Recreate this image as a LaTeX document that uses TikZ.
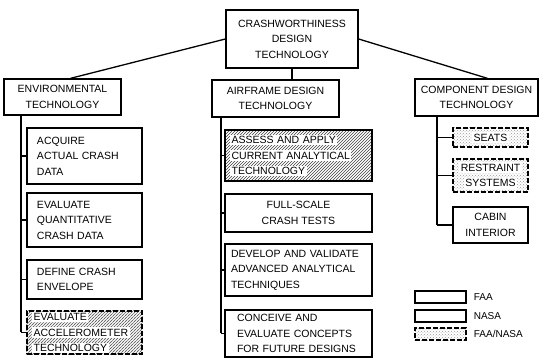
\documentclass[tikz,border=0pt]{standalone}
\usepackage{fontspec}
\setmainfont{Liberation Sans}
\usetikzlibrary{positioning,patterns,backgrounds}
\setlength{\fboxsep}{1.6pt}
\newcommand{\wbg}[1]{\colorbox{white}{#1}}

\begin{document}
\begin{tikzpicture}[x=1pt, y=-1pt,
    box/.style={draw, line width=1.3pt, inner sep=0pt, align=center,
        font=\fontsize{10.5}{15.5}\selectfont},
    leftbox/.style={box, align=left, inner xsep=10pt},
    jointbox/.style={dash pattern=on 5pt off 2pt},
    link/.style={line width=1.3pt},
    legendtxt/.style={font=\fontsize{10}{12}\selectfont, inner sep=0pt}]

    \useasboundingbox (0,0) rectangle (539,363);

    % Top level
    \node[box, minimum width=132, minimum height=58] (top) at (292,39)
        {CRASHWORTHINESS\\DESIGN\\TECHNOLOGY};

    % Second level
    \node[box, minimum width=117, minimum height=36] (env) at (62.5,97)
        {ENVIRONMENTAL\\TECHNOLOGY};
    \node[box, minimum width=127, minimum height=37] (air) at (275.5,98.5)
        {AIRFRAME DESIGN\\TECHNOLOGY};
    \node[box, minimum width=123, minimum height=37] (comp) at (476.5,97.5)
        {COMPONENT DESIGN\\TECHNOLOGY};

    \draw[link] (top.west) -- ([xshift=8pt]env.north);
    \draw[link] (top.south) -- (top.south |- air.north);
    \draw[link] (top.east) -- ([xshift=11pt]comp.north);

    % Environmental technology tasks
    \node[leftbox, text width=95, minimum height=56] (acq) at (84.5,156)
        {ACQUIRE\\ACTUAL CRASH\\DATA};
    \node[leftbox, text width=95, minimum height=54] (evq) at (84.5,220)
        {EVALUATE\\QUANTITATIVE\\CRASH DATA};
    \node[leftbox, text width=95, minimum height=39] (def) at (84.5,279.5)
        {DEFINE CRASH\\ENVELOPE};
    \node[leftbox, jointbox, inner xsep=5pt, text width=105, minimum height=43] (acc) at (84.5,332.5)
        {\wbg{EVALUATE}\\\wbg{ACCELEROMETER}\\\wbg{TECHNOLOGY}};

    % Airframe design tasks
    \node[leftbox, inner xsep=5pt, text width=137, minimum height=51] (asa) at (298.5,155.5)
        {\wbg{ASSESS AND APPLY}\\\wbg{CURRENT ANALYTICAL}\\\wbg{TECHNOLOGY}};
    \node[box, minimum width=147, minimum height=38] (fst) at (298.5,213)
        {FULL-SCALE\\CRASH TESTS};
    \node[leftbox, inner xsep=6pt, text width=135, minimum height=52] (dev) at (298.5,270)
        {DEVELOP AND VALIDATE\\ADVANCED ANALYTICAL\\TECHNIQUES};
    \node[leftbox, inner xsep=12pt, text width=123, minimum height=47] (con) at (298.5,333.5)
        {CONCEIVE AND\\EVALUATE CONCEPTS\\FOR FUTURE DESIGNS};

    % Component design tasks
    \node[box, jointbox, minimum width=75, minimum height=19] (seat) at (490.5,137.5)
        {\wbg{SEATS}};
    \node[box, jointbox, minimum width=75, minimum height=33] (rst) at (490.5,175.5)
        {\wbg{RESTRAINT}\\\wbg{SYSTEMS}};
    \node[box, minimum width=75, minimum height=36] (cab) at (490.5,225)
        {CABIN\\INTERIOR};

    % Trunks and branches
    \coordinate (envtrunk) at ([xshift=-41.5pt]env.south);
    \coordinate (airtrunk) at ([xshift=-54.5pt]air.south);
    \coordinate (comptrunk) at ([xshift=-39.5pt]comp.south);
    \draw[link] (envtrunk) -- (envtrunk |- acc.west);
    \draw[link] (airtrunk) -- (airtrunk |- con.west);
    \draw[link] (comptrunk) -- (comptrunk |- cab.west);
    \foreach \n in {acq,evq,def,acc}
        \draw[link] (envtrunk |- \n.west) -- (\n.west);
    \foreach \n in {asa,fst,dev,con}
        \draw[link] (airtrunk |- \n.west) -- (\n.west);
    \foreach \n in {seat,rst,cab}
        \draw[link] (comptrunk |- \n.west) -- (\n.west);

    % Legend
    \node[box, minimum width=51, minimum height=12] (faa) at (440.5,297) {};
    \node[box, minimum width=51, minimum height=12] (nasa) at (440.5,316) {};
    \node[box, jointbox, minimum width=51, minimum height=12] (both) at (440.5,334) {};
    \node[legendtxt, right=7pt of faa] (faatxt) {FAA};
    \node[legendtxt, right=7pt of nasa] (nasatxt) {NASA};
    \node[legendtxt, right=7pt of both] (bothtxt) {FAA/NASA};

    % Shading (hatch for NASA tasks, dots for joint tasks)
    \begin{scope}[on background layer]
        \foreach \n in {asa,acc}
            \fill[pattern=north east lines, pattern color=black!75] (\n.north west) rectangle (\n.south east);
        \foreach \n in {acc,seat,rst,both}
            \fill[pattern=crosshatch dots, pattern color=black!40] (\n.north west) rectangle (\n.south east);
    \end{scope}
\end{tikzpicture}
\end{document}
